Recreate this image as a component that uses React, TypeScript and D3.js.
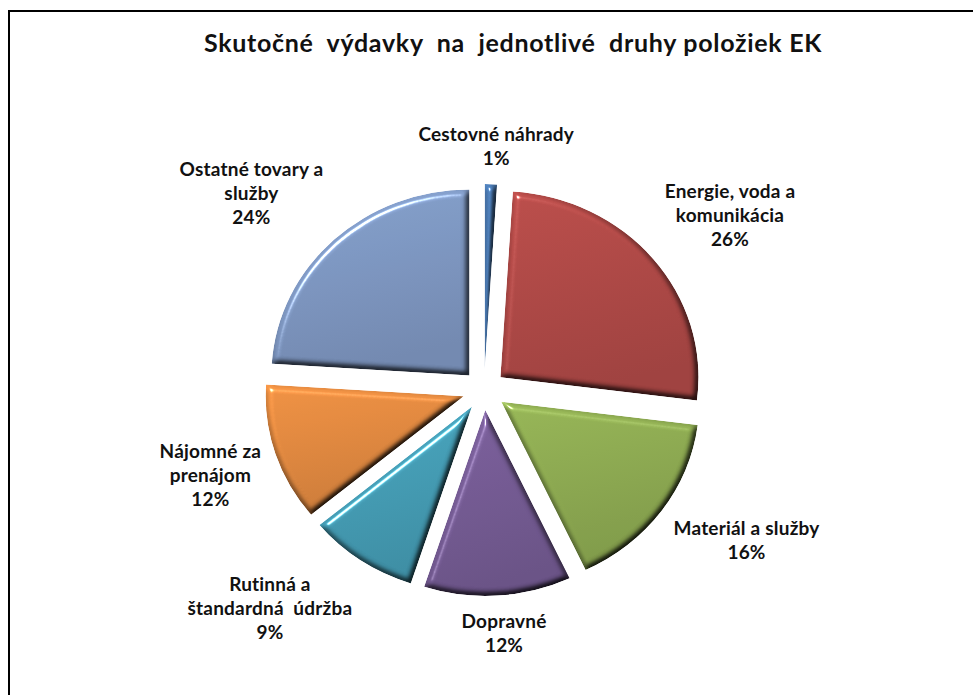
import React from "react";
import * as d3 from "d3";

const title = "Skutočné  výdavky  na  jednotlivé  druhy položiek EK";
const categories = [
  "Cestovné náhrady",
  "Energie, voda a komunikácia",
  "Materiál a služby",
  "Dopravné",
  "Rutinná a štandardná údržba",
  "Nájomné za prenájom",
  "Ostatné tovary a služby",
];
const labelLines = [
  ["Cestovné náhrady"],
  ["Energie, voda a", "komunikácia"],
  ["Materiál a služby"],
  ["Dopravné"],
  ["Rutinná a", "štandardná  údržba"],
  ["Nájomné za", "prenájom"],
  ["Ostatné tovary a", "služby"],
];
const values = [1, 26, 16, 12, 9, 12, 24];
const colors = ["#4f81bd", "#c0504d", "#9bbb59", "#8064a2", "#4bacc6", "#f79646", "#8aa6d4"];

const W = 973;
const H = 695;
const FONT = "Lato, 'Open Sans', 'Noto Sans', sans-serif";
const LABEL_SIZE = 19;
const LABEL_SPACING = 0.2;
const LINE_H = 24;

let ctx: CanvasRenderingContext2D | null = null;
function measure(t: string, size: number) {
  if (!ctx) ctx = document.createElement("canvas").getContext("2d");
  if (!ctx) return t.length * size * 0.5;
  ctx.font = `bold ${size}px Lato`;
  return ctx.measureText(t).width + t.length * LABEL_SPACING;
}

export default function App() {
  const cx = 484, cy = 390, r = 186, sx = 1.065, explode = 20, pad = 14;
  const pie = d3.pie<number>().sort(null).startAngle(0).endAngle(2 * Math.PI)(values);
  const arc = d3.arc<d3.PieArcDatum<number>>().innerRadius(0).outerRadius(r);
  const total = d3.sum(values);

  return (
    <svg width={W} height={H} style={{ position: "absolute", left: 0, top: 0, background: "#fff" }}>
      <defs>
        {pie.map((p, i) => {
          const c = d3.color(colors[i])!;
          return (
            <linearGradient key={i} id={`g${i}`} x1="0" y1="0" x2="0.25" y2="1">
              <stop offset="0" stopColor={c.formatHex()} />
              <stop offset="1" stopColor={c.darker(0.45).formatHex()} />
            </linearGradient>
          );
        })}
        <filter id="bevel" x="-10%" y="-10%" width="120%" height="120%" colorInterpolationFilters="sRGB">
          <feGaussianBlur in="SourceAlpha" stdDeviation="3" result="blur" />
          <feDiffuseLighting in="blur" surfaceScale="5" diffuseConstant="1.12" lightingColor="#ffffff" result="diff">
            <feDistantLight azimuth="235" elevation="60" />
          </feDiffuseLighting>
          <feComposite in="SourceGraphic" in2="diff" operator="arithmetic" k1="1" k2="0" k3="0" k4="0" result="shaded" />
          <feSpecularLighting in="blur" surfaceScale="5" specularConstant="0.9" specularExponent="60" lightingColor="#ffffff" result="spec">
            <feDistantLight azimuth="235" elevation="40" />
          </feSpecularLighting>
          <feComposite in="spec" in2="SourceAlpha" operator="in" result="specIn" />
          <feComposite in="shaded" in2="specIn" operator="arithmetic" k1="0" k2="1" k3="1" k4="0" result="lit" />
          <feComposite in="lit" in2="SourceAlpha" operator="in" />
        </filter>
      </defs>
      <path d={`M9,${H} V11 H${W}`} fill="none" stroke="#000" strokeWidth={2} />
      <text
        x={513}
        y={52}
        textAnchor="middle"
        fontFamily={FONT}
        fontWeight="bold"
        fontSize={25}
        letterSpacing={0.7}
        fill="#111"
        style={{ whiteSpace: "pre" }}
      >
        {title}
      </text>
      <g transform={`translate(${cx},${cy}) scale(${sx},1)`}>
        {pie.map((p, i) => {
          const mid = (p.startAngle + p.endAngle) / 2;
          const dx = explode * Math.sin(mid);
          const dy = -explode * Math.cos(mid);
          return (
            <path
              key={categories[i]}
              d={arc(p) || ""}
              transform={`translate(${dx},${dy})`}
              fill={`url(#g${i})`}
              filter="url(#bevel)"
            />
          );
        })}
      </g>
      {pie.map((p, i) => {
        const mid = (p.startAngle + p.endAngle) / 2;
        const s = Math.sin(mid), c = Math.cos(mid);
        const R = r + explode + pad;
        const px = cx + sx * R * s;
        const py = cy - R * c;
        const lines = [...labelLines[i], `${Math.round((values[i] / total) * 100)}%`];
        const w = d3.max(lines, (l) => measure(l, LABEL_SIZE)) || 0;
        const h = lines.length * LINE_H;
        const ccx = px + (w / 2) * Math.sign(s) * Math.min(1, 2 * Math.abs(s));
        const ccy = py - (h / 2) * Math.sign(c) * Math.min(1, 1.5 * Math.abs(c));
        return (
          <text
            key={`l${i}`}
            textAnchor="middle"
            fontFamily={FONT}
            fontWeight="bold"
            fontSize={LABEL_SIZE}
            letterSpacing={LABEL_SPACING}
            fill="#111"
            style={{ whiteSpace: "pre" }}
          >
            {lines.map((l, j) => (
              <tspan key={j} x={ccx} y={ccy - h / 2 + LINE_H * (j + 0.5) + LABEL_SIZE * 0.36}>
                {l}
              </tspan>
            ))}
          </text>
        );
      })}
    </svg>
  );
}
